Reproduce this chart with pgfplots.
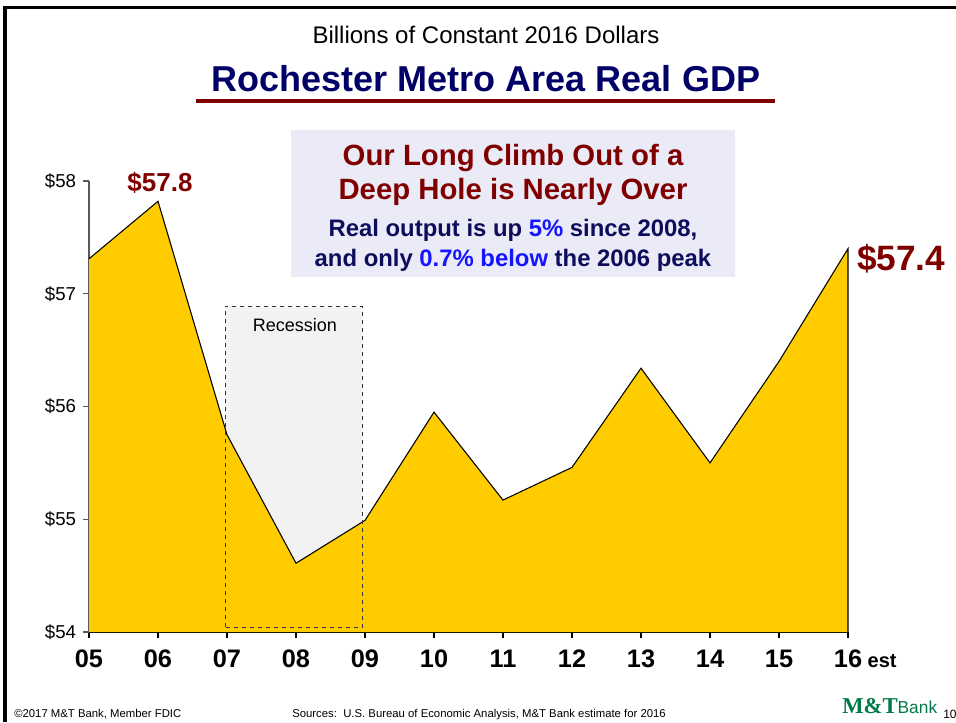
\documentclass[border=0pt]{standalone}
\usepackage{fontspec}
\setmainfont{Liberation Sans}
\newfontfamily\seriffont{Liberation Serif}
\usepackage{pgfplots}
\pgfplotsset{compat=1.18}

\definecolor{gold}{RGB}{255,204,0}
\definecolor{navy}{RGB}{0,0,102}
\definecolor{boxnavy}{RGB}{13,13,92}
\definecolor{darkred}{RGB}{128,0,0}
\definecolor{boxfill}{RGB}{235,235,248}
\definecolor{recfill}{RGB}{242,242,242}
\definecolor{mtgreen}{RGB}{0,122,72}
\definecolor{brightblue}{RGB}{20,20,255}

\newcommand{\fs}[1]{\fontsize{#1}{#1}\selectfont}

\pgfplotstableread{
x y
0  57.31
1  57.82
2  55.75
3  54.61
4  54.99
5  55.95
6  55.17
7  55.46
8  56.34
9  55.50
10 56.40
11 57.40
}\gdp

\begin{document}
\begin{tikzpicture}[x=0.75pt,y=0.75pt]
\path[use as bounding box] (0,0) rectangle (956,722);

% slide frame
\draw[line width=2.5pt] (5,0) -- (5,714.5) -- (956,714.5);

% titles
\node[anchor=base] at (486,678) {\fs{18pt}Billions of Constant 2016 Dollars};
\node[anchor=base, text=navy] at (486,630) {\fs{27pt}\bfseries Rochester Metro Area Real GDP};
\fill[darkred] (196,619) rectangle (775,623);

\begin{axis}[
    at={(66.75pt,67.5pt)}, anchor=south west,
    scale only axis,
    width=569.25pt, height=338.25pt,
    xmin=0, xmax=11, ymin=54, ymax=58,
    axis lines*=left,
    clip=false,
    xtick={0,...,11},
    xticklabels={05,06,07,08,09,10,11,12,13,14,15,{16\rlap{\fs{15pt}\ est}}},
    ytick={54,55,56,57,58},
    yticklabels={\$54,\$55,\$56,\$57,\$58},
    tick align=outside,
    major tick length=4.5pt,
    x axis line style={black, line width=0.8pt},
    y axis line style={black!65, line width=0.8pt},
    ytick style={black!65, line width=0.8pt},
    xtick style={black, line width=0.8pt},
    xticklabel style={font=\fs{19pt}\bfseries, inner sep=0pt, yshift=-9pt},
    yticklabel style={font=\fs{14pt}, inner sep=0pt, xshift=-5pt},
]
% recession shading
\fill[recfill] (axis cs:1.97,54.04) rectangle (axis cs:3.96,56.89);
\addplot[fill=gold, draw=none] table[x=x,y=y]{\gdp} \closedcycle;
\addplot[black, line width=0.8pt] table[x=x,y=y]{\gdp} -- (axis cs:11,54);
\draw[black!80, dashed, line width=0.6pt] (axis cs:1.97,54.04) rectangle (axis cs:3.96,56.89);
\end{axis}

\node[anchor=base] at (295,390.5) {\fs{13.5pt}Recession};

% call-out box
\fill[boxfill] (291,592) rectangle (735,445);
\node[anchor=base, text=darkred] at (513,556.5) {\fs{22pt}\bfseries Our Long Climb Out of a};
\node[anchor=base, text=darkred] at (513,522) {\fs{22pt}\bfseries Deep Hole is Nearly Over};
\node[anchor=base, text=boxnavy] at (513,485.5) {\fs{17.9pt}\bfseries Real output is up \textcolor{brightblue}{5\%} since 2008,};
\node[anchor=base, text=boxnavy] at (513,455.5) {\fs{17.9pt}\bfseries and only \textcolor{brightblue}{0.7\% below} the 2006 peak};

% value labels
\node[anchor=base, text=darkred] at (160,530) {\fs{19.5pt}\bfseries \$57.8};
\node[anchor=base west, text=darkred, inner sep=0pt] at (857,451.5) {\fs{26.4pt}\bfseries \$57.4};

% footer
\node[anchor=base west, inner sep=0pt] at (14,5) {\fs{8.5pt}\textcopyright2017 M\&T Bank, Member FDIC};
\node[anchor=base west, inner sep=0pt] at (292,5) {\fs{8.5pt}Sources:\ \ U.S. Bureau of Economic Analysis, M\&T Bank estimate for 2016};
\node[anchor=base west, inner sep=0pt, text=mtgreen] at (842,9) {{\seriffont\fs{17pt}\bfseries M\&T}{\fs{13pt}Bank}};
\node[anchor=base west, inner sep=0pt] at (943,4) {\fs{9pt}10};
\end{tikzpicture}
\end{document}
